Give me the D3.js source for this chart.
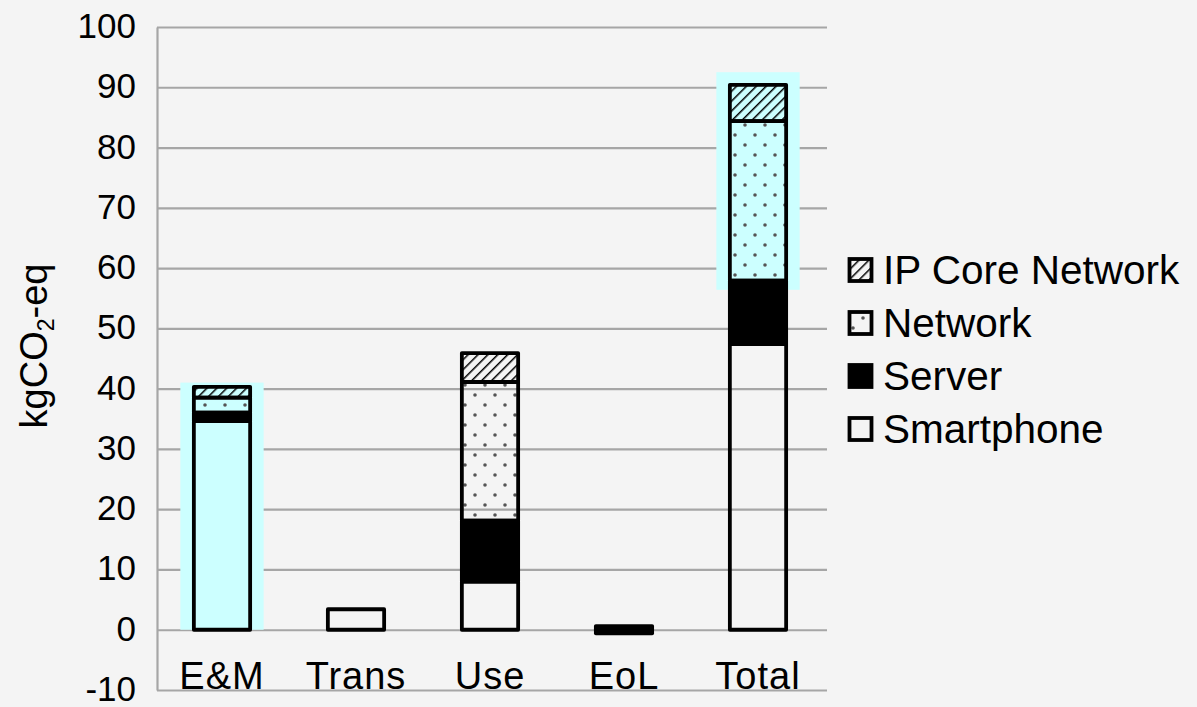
<!DOCTYPE html>
<html>
<head>
<meta charset="utf-8">
<script src="https://cdn.jsdelivr.net/npm/d3@7"></script>
<style>
  html, body { margin: 0; padding: 0; background: #f4f4f4; }
  svg { display: block; }
  text { font-family: "Liberation Sans", Arial, sans-serif; fill: #000; }
</style>
</head>
<body>
<svg id="chart" width="1197" height="707"></svg>
<script>
// ---- data ----
const categories = ["E&M", "Trans", "Use", "EoL", "Total"];
const seriesNames = ["Smartphone", "Server", "Network", "IP Core Network"];
const smartphone = [34.6, 3.4, 8.0, -0.6, 47.4];
const server     = [1.4, 0, 10.1, 0.6, 10.5];
const network    = [2.5, 0, 23.0, 0, 26.5];
const ipCore     = [1.8, 0, 4.8, 0, 6.0];
const yTicks = [-10, 0, 10, 20, 30, 40, 50, 60, 70, 80, 90, 100];
const highlightCats = ["E&M", "Total"];
const highlightFrom = [0, 56.4];
const highlightTo   = [41.0, 92.5];
const legendOrder = ["IP Core Network", "Network", "Server", "Smartphone"];

// ---- layout ----
const svg = d3.select("#chart");
const pLeft = 157, pRight = 827, pTop = 27, pBottom = 690;

const x = d3.scaleBand().domain(categories).range([155, 825])
  .paddingInner(0.58).paddingOuter(0.29);
const y = d3.scaleLinear().domain([-10, 100]).range([pBottom, pTop]);

// patterns
const defs = svg.append("defs");
const dots = defs.append("pattern").attr("id", "dots")
  .attr("patternUnits", "userSpaceOnUse").attr("width", 20).attr("height", 20);
dots.append("circle").attr("cx", 5).attr("cy", 5).attr("r", 1.8).attr("fill", "#555");
dots.append("circle").attr("cx", 15).attr("cy", 15).attr("r", 1.8).attr("fill", "#555");

const hatch = defs.append("pattern").attr("id", "hatch")
  .attr("patternUnits", "userSpaceOnUse").attr("width", 7).attr("height", 7)
  .attr("patternTransform", "rotate(45)");
hatch.append("line").attr("x1", 0).attr("y1", 0).attr("x2", 0).attr("y2", 7)
  .attr("stroke", "#000").attr("stroke-width", 3);

const fills = {
  "Smartphone": "none",
  "Server": "#000",
  "Network": "url(#dots)",
  "IP Core Network": "url(#hatch)"
};

// y axis with gridlines
const yAxis = d3.axisLeft(y).tickValues(yTicks).tickFormat(d => String(d))
  .tickSizeInner(-(pRight - pLeft)).tickSizeOuter(0).tickPadding(21);
const gy = svg.append("g").attr("transform", `translate(${pLeft},0)`).call(yAxis);
gy.selectAll(".tick line").attr("stroke", "#a6a6a6").attr("stroke-width", 2.2);
gy.select(".domain").attr("stroke", "#a6a6a6").attr("stroke-width", 2.2);
gy.selectAll(".tick text").attr("font-size", 35).attr("fill", "#000")
  .attr("dy", "0.3em")
  .attr("font-family", "Liberation Sans, Arial, sans-serif");

// highlight (cyan) areas
const hl = highlightCats.map((c, i) => ({ c, from: highlightFrom[i], to: highlightTo[i] }));
svg.append("g").selectAll("rect").data(hl).join("rect")
  .attr("x", d => x(d.c) + x.bandwidth() / 2 - x.bandwidth() * 0.74)
  .attr("width", x.bandwidth() * 1.48)
  .attr("y", d => y(d.to))
  .attr("height", d => y(d.from) - y(d.to))
  .attr("fill", "#ccffff");

// stacked bars
const valuesBySeries = {
  "Smartphone": smartphone, "Server": server,
  "Network": network, "IP Core Network": ipCore
};
const segs = [];
categories.forEach((c, ci) => {
  let pos = 0, neg = 0;
  seriesNames.forEach(s => {
    const v = valuesBySeries[s][ci];
    if (v === 0) return;
    if (v > 0) { segs.push({ c, s, y0: pos, y1: pos + v }); pos += v; }
    else { segs.push({ c, s, y0: neg + v, y1: neg }); neg += v; }
  });
});
svg.append("g").selectAll("rect").data(segs).join("rect")
  .attr("x", d => x(d.c))
  .attr("width", x.bandwidth())
  .attr("y", d => y(d.y1))
  .attr("height", d => y(d.y0) - y(d.y1))
  .attr("fill", d => fills[d.s])
  .attr("stroke", "#000").attr("stroke-width", 3.8)
  .attr("stroke-linejoin", "round");

// category labels
svg.append("g").selectAll("text").data(categories).join("text")
  .attr("x", d => x(d) + x.bandwidth() / 2)
  .attr("y", 689)
  .attr("text-anchor", "middle")
  .attr("font-size", 38)
  .attr("letter-spacing", 1)
  .text(d => d);

// y title
const yt = svg.append("text")
  .attr("transform", "translate(47,346) rotate(-90)")
  .attr("text-anchor", "middle")
  .attr("font-size", 38);
yt.append("tspan").text("kgCO");
yt.append("tspan").text("2").attr("font-size", 23).attr("dy", 7);
yt.append("tspan").text("-eq").attr("dy", -7);

// legend
const legY = d3.scalePoint().domain(legendOrder).range([270, 429]);
const lg = svg.append("g").selectAll("g").data(legendOrder).join("g")
  .attr("transform", d => `translate(848,${legY(d)})`);
lg.append("rect").attr("x", 1.5).attr("y", -11).attr("width", 22).attr("height", 22)
  .attr("fill", d => fills[d]).attr("stroke", "#000").attr("stroke-width", 3.8);
lg.append("text").attr("x", 35).attr("y", 14).attr("font-size", 40.5).text(d => d);
</script>
</body>
</html>
